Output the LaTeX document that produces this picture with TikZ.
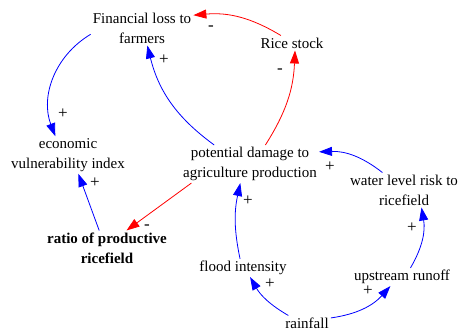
\documentclass[tikz,border=0pt]{standalone}
\usepackage{fontspec}
\setmainfont{Liberation Serif}
\usetikzlibrary{arrows.meta}

\tikzset{
  var/.style={align=center, inner sep=2pt, font=\rmfamily\fontsize{15}{20}\selectfont},
  pos link/.style={draw=blue, line width=0.8pt, -{Triangle[length=13pt,width=9pt]}},
  neg link/.style={draw=red, line width=0.8pt, -{Triangle[length=13pt,width=9pt]}},
  sign/.style={font=\rmfamily\fontsize{17}{18}\selectfont, inner sep=0pt}
}

\begin{document}
\begin{tikzpicture}[x=1pt,y=-1pt]
    \useasboundingbox (0,0) rectangle (462,332);

    % variables
    \node[var] (fin) at (142,28) {Financial loss to\\farmers};
    \node[var] (rice) at (292,43) {Rice stock};
    \node[var] (econ) at (68,155) {economic\\vulnerability index};
    \node[var] (pot) at (250,164) {potential damage to\\agriculture production};
    \node[var] (water) at (404,190) {water level risk to\\ricefield};
    \node[var, font=\rmfamily\fontsize{15}{20}\selectfont\bfseries] (ratio) at (107,248) {ratio of productive\\ricefield};
    \node[var] (flood) at (243,268) {flood intensity};
    \node[var] (runoff) at (402,277) {upstream runoff};
    \node[var] (rain) at (307,323) {rainfall};

    % links
    \draw[neg link] (rice.146) to[bend right=18] (fin.14);
    \draw[neg link] (pot.51) to[bend right=15] (rice.-68);
    \draw[pos link] (pot.152) to[bend left=20] (fin.-73);
    \draw[pos link] (fin.187) to[bend right=40] (econ.124);
    \draw[pos link] (ratio.114) -- (econ.-61);
    \draw[neg link] (pot.198) -- (ratio.42);
    \draw[pos link] (flood.108) to[bend left=12] (pot.-117);
    \draw[pos link] (water.141) to[bend right=20] (pot.10);
    \draw[pos link] (runoff.47) to[bend right=20] (water.-45);
    \draw[pos link] (rain.158) to[bend left=15] (flood.-52);
    \draw[pos link] (rain.12) to[bend right=20] (runoff.218);

    % polarity
    \node[sign] (s1) at (211,28) {-};
    \node[sign] (s2) at (280,71) {-};
    \node[sign] (s3) at (164,60) {+};
    \node[sign] (s4) at (63,114) {+};
    \node[sign] (s5) at (95,183) {+};
    \node[sign] (s6) at (147,227) {-};
    \node[sign] (s7) at (248,201) {+};
    \node[sign] (s8) at (330,167) {+};
    \node[sign] (s9) at (412,228) {+};
    \node[sign] (s10) at (270,284) {+};
    \node[sign] (s11) at (368,291) {+};
\end{tikzpicture}
\end{document}
